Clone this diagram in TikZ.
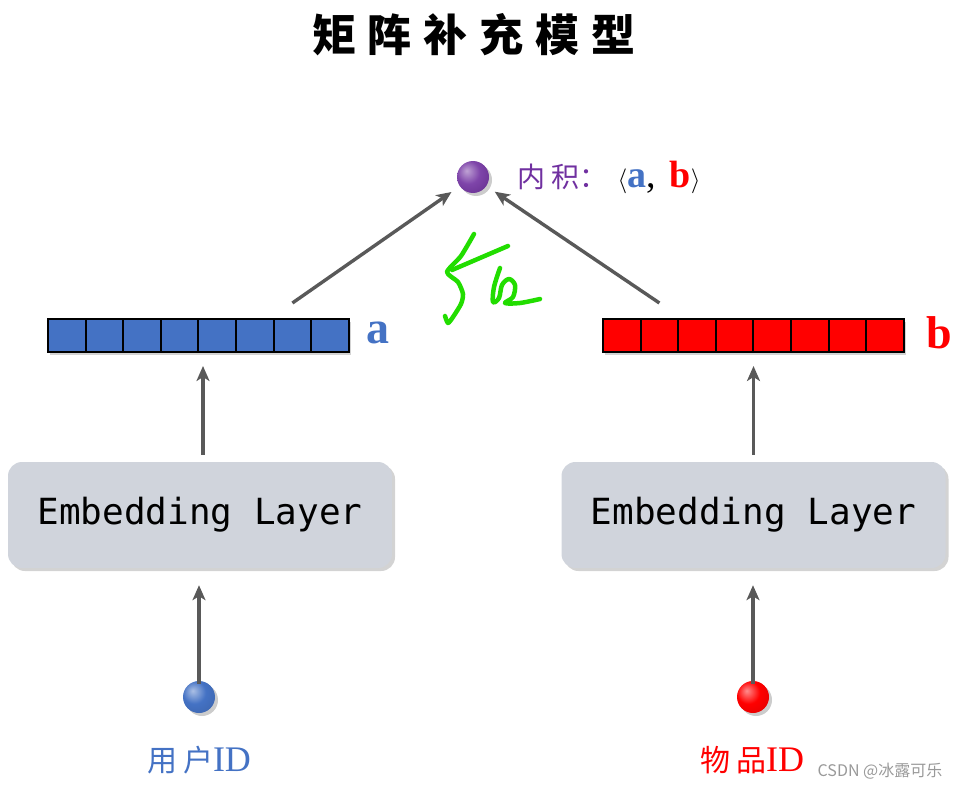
\documentclass[tikz,border=0pt]{standalone}
\usepackage{fontspec}
\setmainfont{Liberation Serif}
\newfontfamily\cjk{Noto Sans CJK SC}
\newfontfamily\embfont{DejaVu Sans Mono}
\usetikzlibrary{shadows,arrows.meta}

\definecolor{vecblue}{HTML}{4472C4}
\definecolor{vecred}{HTML}{FF0000}
\definecolor{innerpurple}{HTML}{7030A0}
\definecolor{arrgray}{HTML}{595959}
\definecolor{boxfill}{HTML}{D0D4DC}
\definecolor{handgreen}{HTML}{22DD00}

\pgfdeclareradialshading{purpleball}{\pgfpoint{-10bp}{10bp}}{color(0bp)=(innerpurple!45!white); color(18bp)=(innerpurple!90!white); color(45bp)=(innerpurple!85!black); color(70bp)=(innerpurple!60!black)}
\pgfdeclareradialshading{blueball}{\pgfpoint{-10bp}{10bp}}{color(0bp)=(vecblue!45!white); color(18bp)=(vecblue); color(45bp)=(vecblue!85!black); color(70bp)=(vecblue!60!black)}
\pgfdeclareradialshading{redball}{\pgfpoint{-10bp}{10bp}}{color(0bp)=(vecred!45!white); color(18bp)=(vecred); color(45bp)=(vecred!85!black); color(70bp)=(vecred!60!black)}

\begin{document}
\begin{tikzpicture}[x=1pt,y=-1pt,
	cellA/.style={draw=black,line width=2pt,fill=vecblue,minimum width=37.6pt,minimum height=33pt,inner sep=0pt,outer sep=0pt,
		drop shadow={shadow xshift=2pt,shadow yshift=-3pt,opacity=0.35}},
	cellB/.style={cellA,fill=vecred},
	ball/.style={circle,minimum size=32pt,inner sep=0pt,
		drop shadow={shadow xshift=3pt,shadow yshift=-3pt,opacity=0.4}},
	embbox/.style={rounded corners=14pt,fill=boxfill,minimum width=384pt,minimum height=106pt,
		font=\embfont\fontsize{36}{42}\selectfont,
		drop shadow={shadow xshift=3pt,shadow yshift=-3pt,opacity=0.35}},
	arr/.style={draw=arrgray,line width=3.4pt,-{Stealth[length=15pt,width=13pt,inset=4pt]}},
	hand/.style={draw=handgreen,line width=4.5pt,line cap=round,line join=round}]
	\useasboundingbox (0,0) rectangle (964,789);

	% title
	\node (title) at (474,35) {\cjk\bfseries\fontsize{44}{50}\selectfont
		矩\hspace{12pt}阵\hspace{12pt}补\hspace{12pt}充\hspace{12pt}模\hspace{12pt}型};

	% inner product
	\node[ball,shading=purpleball] (inner) at (473,177) {};
	\node[anchor=west] (innerlbl) at (514,177) {\fontsize{38}{44}\selectfont
		{\cjk\fontsize{28}{34}\selectfont\color{innerpurple}内\hspace{6pt}积：}\hspace{10pt}$\langle$\textbf{\color{vecblue}a},\hspace{14pt}\textbf{\color{vecred}b}$\rangle$};

	% vectors
	\foreach \i in {1,...,8} {
		\node[cellA] (a\i) at ({48+(\i-0.5)*37.6},335.5) {};
		\node[cellB] (b\i) at ({603+(\i-0.5)*37.6},335.5) {};
	}
	\node (alabel) at (378,333) {\fontsize{46}{50}\selectfont\bfseries\color{vecblue}a};
	\node (blabel) at (939,333) {\fontsize{46}{50}\selectfont\bfseries\color{vecred}b};

	\draw[arr,shorten >=10pt] ([yshift=16pt]a7.north) -- (inner);
	\draw[arr,shorten >=10pt] ([yshift=16pt]b2.north) -- (inner);

	% embedding layers
	\node[embbox] (embL) at (200,515) {Embedding Layer};
	\node[embbox] (embR) at (753.5,515) {Embedding Layer};

	\draw[arr,shorten <=7pt,shorten >=14pt] ([xshift=3pt]embL.north) -- ([xshift=3pt]embL.north |- a4.south);
	\draw[arr,shorten <=7pt,shorten >=14pt] (embR.north) -- (embR.north |- b4.south);

	% inputs
	\node[ball,shading=blueball] (user) at (199,697) {};
	\node[ball,shading=redball] (item) at (753,697) {};
	\node (userlbl) at (199,760) {\color{vecblue}{\cjk\fontsize{30}{36}\selectfont 用\hspace{6pt}户}\fontsize{36}{40}\selectfont ID};
	\node (itemlbl) at (752,760) {\color{vecred}{\cjk\fontsize{30}{36}\selectfont 物\hspace{6pt}品}\fontsize{36}{40}\selectfont ID};

	\draw[arr,shorten <=-3pt,shorten >=17pt] (user) -- (user |- embL.south);
	\draw[arr,shorten <=-3pt,shorten >=17pt] (item) -- (item |- embR.south);

	% handwritten note
	\draw[hand] plot[smooth,tension=0.4] coordinates {(474,234) (461,256) (447,272) (458,282) (463,294) (461,304) (453,317) (448,323) (445,316)};
	\draw[hand] plot[smooth,tension=0.55] coordinates {(452,270) (480,258) (508,246)};
	\draw[hand] plot[smooth,tension=0.55] coordinates {(500,268) (494,287) (493,302) (499,298) (502,285) (509,279) (515,285) (513,297) (505,303) (520,303) (540,299)};

	% watermark
	\node (mark) at (880,771) {\cjk\fontsize{16}{18}\selectfont\color{black!40}CSDN @冰露可乐};
\end{tikzpicture}
\end{document}
